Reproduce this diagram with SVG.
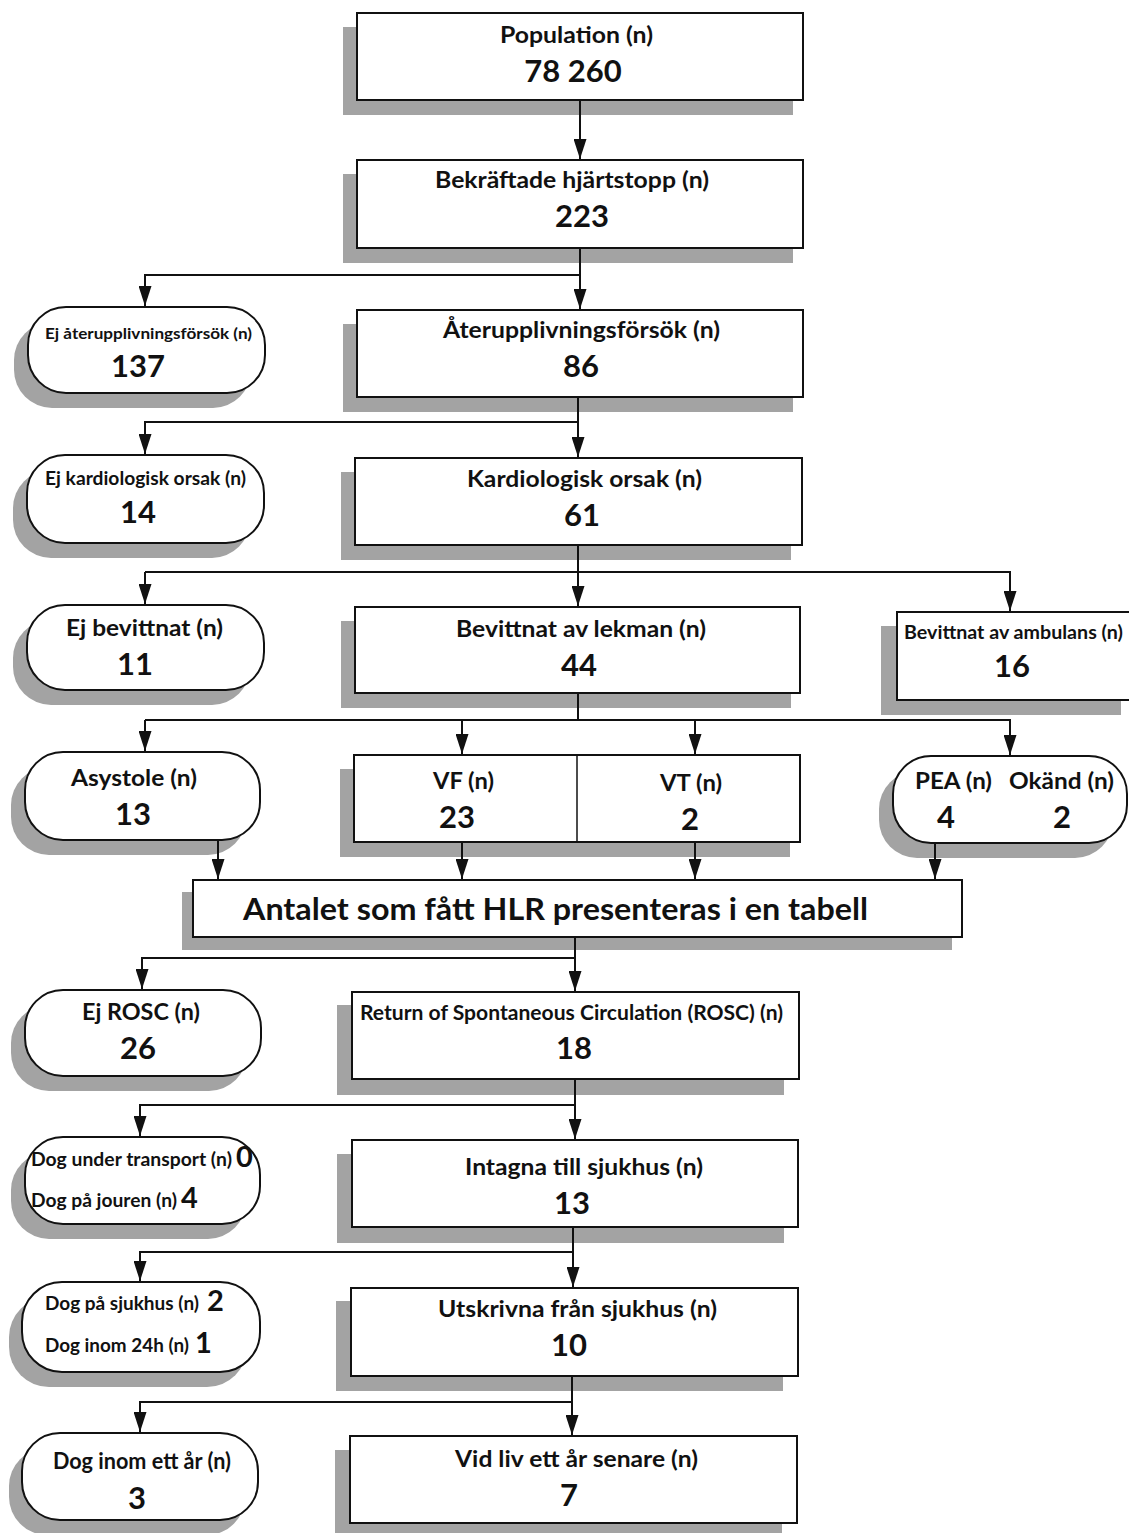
<svg xmlns="http://www.w3.org/2000/svg" width="1129" height="1533" viewBox="0 0 1129 1533">
<defs>
<style>
.sh{fill:#a3a3a3}
.bx{fill:#fff;stroke:#111;stroke-width:2}
.t{font-family:Lato,"Open Sans","Liberation Sans",sans-serif;font-weight:700;fill:#111;text-anchor:middle}
.s{text-anchor:start}
.l{font-size:23px}
.m{font-size:18px}
.n{font-size:31px}
.c{stroke:#111;stroke-width:2;fill:none}
</style>
<marker id="ah" markerUnits="userSpaceOnUse" markerWidth="20" markerHeight="13" refX="20" refY="6.5" orient="auto"><path d="M0,0 L20,6.5 L0,13 z" fill="#111"/></marker>
</defs>
<rect width="1129" height="1533" fill="#fff"/>

<g id="population">
<rect class="sh" x="343" y="27" width="450" height="88"/>
<rect class="bx" x="357" y="13" width="446" height="87"/>
<text class="t l" x="576.5" y="43" textLength="153" lengthAdjust="spacingAndGlyphs">Population (n)</text>
<text class="t n" x="573" y="82">78 260</text>
</g>

<g id="bekraftade">
<rect class="sh" x="343" y="174" width="450" height="89"/>
<rect class="bx" x="357" y="160" width="446" height="88"/>
<text class="t l" x="572" y="188" textLength="274" lengthAdjust="spacingAndGlyphs">Bekräftade hjärtstopp (n)</text>
<text class="t n" x="582" y="227">223</text>
</g>

<g id="ej-aterupplivning">
<rect class="sh" x="14" y="322" width="237" height="86" rx="38"/>
<rect class="bx" x="28" y="307" width="237" height="86" rx="38"/>
<text class="t" style="font-size:16px" x="148.5" y="339" textLength="207" lengthAdjust="spacingAndGlyphs">Ej återupplivningsförsök (n)</text>
<text class="t n" x="138" y="377">137</text>
</g>

<g id="aterupplivning">
<rect class="sh" x="343" y="324" width="450" height="88"/>
<rect class="bx" x="357" y="310" width="446" height="87"/>
<text class="t l" x="581.5" y="338" textLength="277" lengthAdjust="spacingAndGlyphs">Återupplivningsförsök (n)</text>
<text class="t n" x="581" y="377">86</text>
</g>

<g id="ej-kardiologisk">
<rect class="sh" x="13" y="470" width="237" height="88" rx="38"/>
<rect class="bx" x="27" y="455" width="237" height="88" rx="38"/>
<text class="t m" x="145.5" y="484.5" textLength="201" lengthAdjust="spacingAndGlyphs">Ej kardiologisk orsak (n)</text>
<text class="t n" x="138" y="523">14</text>
</g>

<g id="kardiologisk">
<rect class="sh" x="341" y="472" width="450" height="88"/>
<rect class="bx" x="355" y="458" width="447" height="87"/>
<text class="t l" x="584.5" y="487" textLength="235" lengthAdjust="spacingAndGlyphs">Kardiologisk orsak (n)</text>
<text class="t n" x="582" y="526">61</text>
</g>

<g id="ej-bevittnat">
<rect class="sh" x="13" y="620" width="237" height="85" rx="38"/>
<rect class="bx" x="27" y="605" width="237" height="85" rx="38"/>
<text class="t l" x="144.5" y="636" textLength="157" lengthAdjust="spacingAndGlyphs">Ej bevittnat (n)</text>
<text class="t n" x="135" y="675">11</text>
</g>

<g id="bevittnat-lekman">
<rect class="sh" x="341" y="621" width="450" height="87"/>
<rect class="bx" x="355" y="607" width="445" height="86"/>
<text class="t l" x="581" y="637" textLength="250" lengthAdjust="spacingAndGlyphs">Bevittnat av lekman (n)</text>
<text class="t n" x="579" y="676">44</text>
</g>

<g id="bevittnat-ambulans">
<rect class="sh" x="881" y="626" width="240" height="89"/>
<rect class="bx" x="897" y="612" width="240" height="88"/>
<text class="t" style="font-size:19px" x="1013.5" y="639" textLength="219" lengthAdjust="spacingAndGlyphs">Bevittnat av ambulans (n)</text>
<text class="t n" x="1012" y="677">16</text>
</g>

<g id="asystole">
<rect class="sh" x="11" y="767" width="235" height="88" rx="38"/>
<rect class="bx" x="25" y="752" width="235" height="88" rx="38"/>
<text class="t l" x="134" y="786" textLength="126" lengthAdjust="spacingAndGlyphs">Asystole (n)</text>
<text class="t n" x="133" y="825">13</text>
</g>

<g id="vf-vt">
<rect class="sh" x="340" y="769" width="450" height="88"/>
<rect class="bx" x="354" y="755" width="446" height="87"/>
<line x1="577" y1="755" x2="577" y2="842" stroke="#111" stroke-width="1.5"/>
<text class="t l" x="463.5" y="789" textLength="61" lengthAdjust="spacingAndGlyphs">VF (n)</text>
<text class="t n" x="457" y="828">23</text>
<text class="t l" x="691" y="791" textLength="62" lengthAdjust="spacingAndGlyphs">VT (n)</text>
<text class="t n" x="690" y="830">2</text>
</g>

<g id="pea-okand">
<rect class="sh" x="879" y="771" width="234" height="87" rx="38"/>
<rect class="bx" x="893" y="756" width="234" height="87" rx="38"/>
<text class="t l" x="953.5" y="789" textLength="77" lengthAdjust="spacingAndGlyphs">PEA (n)</text>
<text class="t l" x="1061.5" y="789" textLength="105" lengthAdjust="spacingAndGlyphs">Okänd (n)</text>
<text class="t n" x="946" y="828">4</text>
<text class="t n" x="1062" y="828">2</text>
</g>

<g id="antalet">
<rect class="sh" x="182" y="892" width="770" height="58"/>
<rect class="bx" x="193" y="880" width="769" height="57"/>
<text class="t n" x="555.5" y="920" textLength="625" lengthAdjust="spacingAndGlyphs">Antalet som fått HLR presenteras i en tabell</text>
</g>

<g id="ej-rosc">
<rect class="sh" x="11" y="1005" width="236" height="86" rx="38"/>
<rect class="bx" x="25" y="990" width="236" height="86" rx="38"/>
<text class="t l" x="141" y="1020" textLength="118" lengthAdjust="spacingAndGlyphs">Ej ROSC (n)</text>
<text class="t n" x="138" y="1059">26</text>
</g>

<g id="rosc">
<rect class="sh" x="337" y="1005" width="447" height="90"/>
<rect class="bx" x="352" y="992" width="447" height="87"/>
<text class="t" style="font-size:20px" x="571.5" y="1020" textLength="423" lengthAdjust="spacingAndGlyphs">Return of Spontaneous Circulation (ROSC) (n)</text>
<text class="t n" x="574" y="1059">18</text>
</g>

<g id="dog-transport">
<rect class="sh" x="11" y="1152" width="235" height="87" rx="38"/>
<rect class="bx" x="25" y="1137" width="235" height="87" rx="38"/>
<text class="t m s" x="31" y="1166" textLength="201" lengthAdjust="spacingAndGlyphs">Dog under transport (n)</text>
<text class="t s" style="font-size:29px" x="236" y="1167">0</text>
<text class="t m s" x="31" y="1207" textLength="146" lengthAdjust="spacingAndGlyphs">Dog på jouren (n)</text>
<text class="t s" style="font-size:29px" x="181" y="1208">4</text>
</g>

<g id="intagna">
<rect class="sh" x="337" y="1154" width="447" height="89"/>
<rect class="bx" x="352" y="1140" width="446" height="87"/>
<text class="t l" x="584" y="1175" textLength="238" lengthAdjust="spacingAndGlyphs">Intagna till sjukhus (n)</text>
<text class="t n" x="572" y="1214">13</text>
</g>

<g id="dog-sjukhus">
<rect class="sh" x="9" y="1297" width="238" height="90" rx="40"/>
<rect class="bx" x="22" y="1282" width="238" height="90" rx="40"/>
<text class="t m s" x="45" y="1310" textLength="154" lengthAdjust="spacingAndGlyphs">Dog på sjukhus (n)</text>
<text class="t s" style="font-size:29px" x="207" y="1311">2</text>
<text class="t m s" x="45" y="1352" textLength="144" lengthAdjust="spacingAndGlyphs">Dog inom 24h (n)</text>
<text class="t s" style="font-size:29px" x="195" y="1353">1</text>
</g>

<g id="utskrivna">
<rect class="sh" x="336" y="1301" width="447" height="90"/>
<rect class="bx" x="351" y="1288" width="447" height="88"/>
<text class="t l" x="577.5" y="1317" textLength="279" lengthAdjust="spacingAndGlyphs">Utskrivna från sjukhus (n)</text>
<text class="t n" x="569" y="1356">10</text>
</g>

<g id="dog-ett-ar">
<rect class="sh" x="9" y="1448" width="236" height="87" rx="38"/>
<rect class="bx" x="22" y="1433" width="236" height="87" rx="38"/>
<text class="t l" x="142" y="1469" textLength="178" lengthAdjust="spacingAndGlyphs">Dog inom ett år (n)</text>
<text class="t n" x="137" y="1509">3</text>
</g>

<g id="vid-liv">
<rect class="sh" x="335" y="1450" width="447" height="90"/>
<rect class="bx" x="350" y="1436" width="447" height="87"/>
<text class="t l" x="576.5" y="1467" textLength="243" lengthAdjust="spacingAndGlyphs">Vid liv ett år senare (n)</text>
<text class="t n" x="569" y="1506">7</text>
</g>

<g id="connectors" class="c">
<line x1="580" y1="100" x2="580" y2="159" marker-end="url(#ah)"/>
<line x1="580" y1="248" x2="580" y2="309" marker-end="url(#ah)"/>
<polyline points="580,275 145,275 145,306" marker-end="url(#ah)"/>
<line x1="578" y1="397" x2="578" y2="457" marker-end="url(#ah)"/>
<polyline points="578,422 145,422 145,454" marker-end="url(#ah)"/>
<line x1="578" y1="545" x2="578" y2="606" marker-end="url(#ah)"/>
<polyline points="145,572 1010,572 1010,611" marker-end="url(#ah)"/>
<polyline points="145,572 145,604" marker-end="url(#ah)"/>
<line x1="578" y1="693" x2="578" y2="720"/>
<polyline points="145,720 1010,720 1010,755" marker-end="url(#ah)"/>
<polyline points="145,720 145,751" marker-end="url(#ah)"/>
<line x1="462" y1="720" x2="462" y2="754" marker-end="url(#ah)"/>
<line x1="695" y1="720" x2="695" y2="754" marker-end="url(#ah)"/>
<line x1="218" y1="840" x2="218" y2="879" marker-end="url(#ah)"/>
<line x1="462" y1="842" x2="462" y2="879" marker-end="url(#ah)"/>
<line x1="695" y1="842" x2="695" y2="879" marker-end="url(#ah)"/>
<line x1="935" y1="843" x2="935" y2="879" marker-end="url(#ah)"/>
<line x1="575" y1="937" x2="575" y2="991" marker-end="url(#ah)"/>
<polyline points="575,958 142,958 142,989" marker-end="url(#ah)"/>
<line x1="575" y1="1079" x2="575" y2="1139" marker-end="url(#ah)"/>
<polyline points="575,1105 140,1105 140,1136" marker-end="url(#ah)"/>
<line x1="573" y1="1227" x2="573" y2="1287" marker-end="url(#ah)"/>
<polyline points="573,1252 140,1252 140,1281" marker-end="url(#ah)"/>
<line x1="572" y1="1376" x2="572" y2="1435" marker-end="url(#ah)"/>
<polyline points="572,1402 140,1402 140,1432" marker-end="url(#ah)"/>
</g>
</svg>
